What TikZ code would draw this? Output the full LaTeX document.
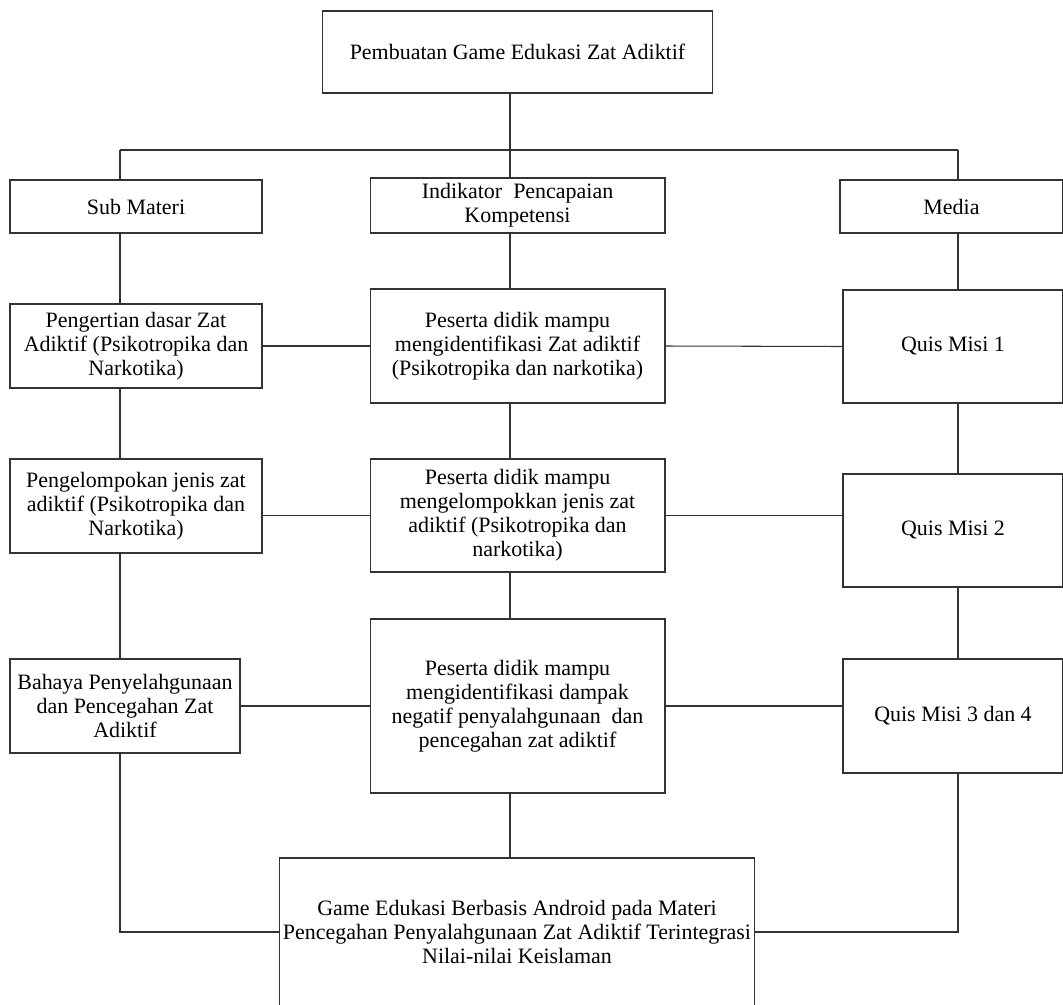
\documentclass[tikz,border=0pt]{standalone}
\usepackage{fontspec}
\setmainfont{Liberation Serif}
\usetikzlibrary{positioning}

\begin{document}
\begin{tikzpicture}[
  x=0.02cm, y=-0.02cm,
  box/.style={draw=black!80, line width=0.6pt, align=center, inner sep=2pt, font=\fontsize{12.5}{13.7}\selectfont},
  link/.style={draw=black!80, line width=0.6pt}
]
\useasboundingbox (0,0) rectangle (1063,1005);

% top and second row
\node[box, minimum width=7.82cm, minimum height=1.64cm] (top) at (517.5,52) {Pembuatan Game Edukasi Zat Adiktif};
\node[box, minimum width=5.04cm, minimum height=1.06cm] (sub) at (136,206.5) {Sub Materi};
\node[box, minimum width=5.9cm, minimum height=1.1cm] (ipk) at (517.5,205.5) {Indikator\ \ Pencapaian\\ Kompetensi};
\node[box, minimum width=4.46cm, minimum height=1.06cm] (media) at (951.5,206.5) {Media};

% sub materi column
\node[box, minimum width=5.04cm, minimum height=1.68cm] (sub1) at (136,346) {Pengertian dasar Zat\\ Adiktif (Psikotropika dan\\ Narkotika)};
\node[box, minimum width=5.04cm, minimum height=1.88cm] (sub2) at (136,506) {Pengelompokan jenis zat\\ adiktif (Psikotropika dan\\ Narkotika)};
\node[box, minimum width=4.6cm, minimum height=1.88cm] (sub3) at (125,706) {Bahaya Penyelahgunaan\\ dan Pencegahan Zat\\ Adiktif};

% indikator column
\node[box, minimum width=5.9cm, minimum height=2.28cm] (psr1) at (517.5,346) {Peserta didik mampu\\ mengidentifikasi Zat adiktif\\ (Psikotropika dan narkotika)};
\node[box, minimum width=5.9cm, minimum height=2.26cm] (psr2) at (517.5,515.5) {Peserta didik mampu\\ mengelompokkan jenis zat\\ adiktif (Psikotropika dan\\ narkotika)};
\node[box, minimum width=5.9cm, minimum height=3.48cm] (psr3) at (517.5,706) {Peserta didik mampu\\ mengidentifikasi dampak\\ negatif penyalahgunaan\ \ dan\\ pencegahan zat adiktif};

% media column
\node[box, minimum width=4.4cm, minimum height=2.26cm] (quis1) at (953,346.5) {Quis Misi 1};
\node[box, minimum width=4.4cm, minimum height=2.26cm] (quis2) at (953,530.5) {Quis Misi 2};
\node[box, minimum width=4.4cm, minimum height=2.28cm] (quis3) at (953,716) {Quis Misi 3 dan 4};

\node[box, minimum width=9.52cm, minimum height=2.96cm] (game) at (517,932) {Game Edukasi Berbasis Android pada Materi\\ Pencegahan Penyalahgunaan Zat Adiktif Terintegrasi\\ Nilai-nilai Keislaman};

% bus
\coordinate (lft) at (120,150);
\coordinate (mid) at (510,150);
\coordinate (rgt) at (958,150);
\draw[link] (lft) -- (rgt);
\draw[link] (top.south -| mid) -- (ipk.north -| mid);
\draw[link] (lft) -- (sub.north -| lft);
\draw[link] (rgt) -- (media.north -| rgt);

% verticals
\draw[link] (sub.south -| lft) -- (sub1.north -| lft);
\draw[link] (sub1.south -| lft) -- (sub2.north -| lft);
\draw[link] (sub2.south -| lft) -- (sub3.north -| lft);
\draw[link] (sub3.south -| lft) |- (game.west);
\draw[link] (ipk.south -| mid) -- (psr1.north -| mid);
\draw[link] (psr1.south -| mid) -- (psr2.north -| mid);
\draw[link] (psr2.south -| mid) -- (psr3.north -| mid);
\draw[link] (psr3.south -| mid) -- (game.north -| mid);
\draw[link] (media.south -| rgt) -- (quis1.north -| rgt);
\draw[link] (quis1.south -| rgt) -- (quis2.north -| rgt);
\draw[link] (quis2.south -| rgt) -- (quis3.north -| rgt);
\draw[link] (quis3.south -| rgt) |- (game.east);

% horizontals
\draw[link] (sub1.east) -- (psr1.west);
\draw[link] (psr1.east) -- (quis1.west);
\draw[link] (psr2.west) -- (psr2.west -| sub2.east);
\draw[link] (psr2.east) -- (psr2.east -| quis2.west);
\draw[link] (sub3.east) -- (psr3.west);
\draw[link] (psr3.east) -- (psr3.east -| quis3.west);
\end{tikzpicture}
\end{document}
